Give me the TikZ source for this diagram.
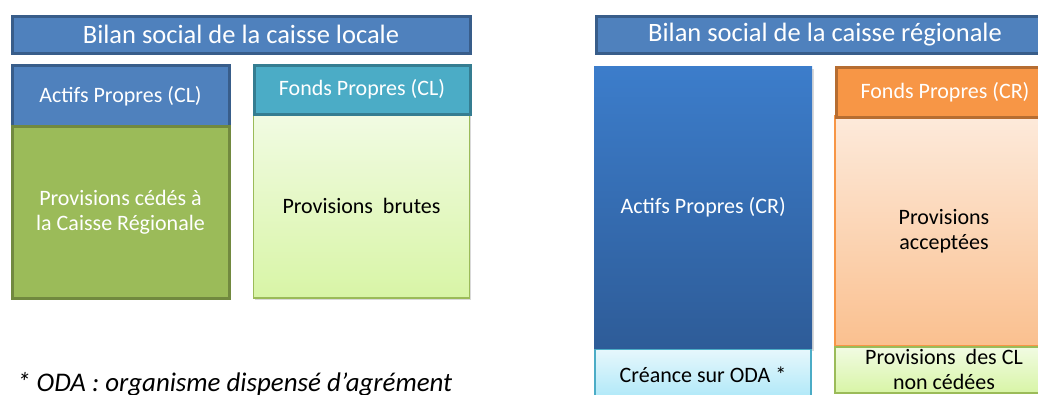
\documentclass[tikz,border=0pt]{standalone}
\usepackage{fontspec}
\setmainfont{Carlito}
\usetikzlibrary{shadows}
\definecolor{bluefill}{HTML}{4F81BD}
\definecolor{blueline}{HTML}{385D8A}
\definecolor{greenfill}{HTML}{9BBB59}
\definecolor{greenline}{HTML}{71893F}
\definecolor{aquafill}{HTML}{4BACC6}
\definecolor{aqualine}{HTML}{357D91}
\definecolor{orangefill}{HTML}{F79646}
\definecolor{orangeline}{HTML}{B66D31}
\definecolor{ltgreentop}{HTML}{F1FBE3}
\definecolor{ltgreenbot}{HTML}{D8F5A6}
\definecolor{crtop}{HTML}{3C7DCB}
\definecolor{crbot}{HTML}{2E5C98}
\definecolor{cyantop}{HTML}{E6F7FC}
\definecolor{cyanbot}{HTML}{AEE8F8}
\definecolor{peachtop}{HTML}{FDEADB}
\definecolor{peachbot}{HTML}{FAC08F}
\begin{document}
\begin{tikzpicture}[x=1pt,y=-1pt,
  box/.style={rectangle, anchor=north west, inner sep=0pt, align=center,
    font=\fontsize{22}{25}\selectfont},
  thick box/.style={box, draw, line width=3pt},
  thin box/.style={box, draw, line width=1.5pt},
  titlebox/.style={thick box, fill=bluefill, draw=blueline, text=white,
    font=\fontsize{26.5}{30}\selectfont},
  bluebox/.style={thick box, fill=bluefill, draw=blueline, text=white},
  greenbox/.style={thick box, fill=greenfill, draw=greenline, text=white},
  aquabox/.style={thick box, fill=aquafill, draw=aqualine, text=white},
  orangebox/.style={thick box, fill=orangefill, draw=orangeline, text=white},
  ltgreenbox/.style={thin box, draw=greenfill, top color=ltgreentop, bottom color=ltgreenbot, text=black},
  crbox/.style={box, top color=crtop, bottom color=crbot, text=white},
  cyanbox/.style={thin box, draw=aquafill, top color=cyantop, bottom color=cyanbot, text=black},
  peachbox/.style={thin box, draw=orangefill, top color=peachtop, bottom color=peachbot, text=black},
  softshadow/.style={drop shadow={opacity=0.25, shadow xshift=1.5pt, shadow yshift=-2.5pt, fill=black!60}},
]
\useasboundingbox (0,0) rectangle (1038,394);
\clip (0,0) rectangle (1038,394);

% left: caisse locale
\node[titlebox, minimum width=458pt, minimum height=37pt] (tl) at (10.5,14.5) {Bilan social de la caisse locale};
\node[bluebox, minimum width=217pt, minimum height=62pt] (apcl) at (10.5,63.5) {Actifs Propres (CL)};
\node[greenbox, minimum width=217pt, minimum height=172pt] (pcede) at (10.5,124.5) {Provisions cédés à\\la Caisse Régionale};
\node[ltgreenbox, softshadow, minimum width=216pt, minimum height=184pt] (pbrut) at (252.75,113) {Provisions\ \ brutes};
\node[aquabox, minimum width=216pt, minimum height=49pt] (fpcl) at (252.5,63.5) {Fonds Propres (CL)};

% right: caisse regionale
\node[titlebox, minimum width=458pt, minimum height=37pt] (tr) at (594.5,14.5) {Bilan social de la caisse régionale};
\node[crbox, softshadow, minimum width=218pt, minimum height=282pt] (apcr) at (594,66) {Actifs Propres (CR)};
\node[cyanbox, minimum width=216pt, minimum height=50pt] (oda) at (594.25,348.75) {Créance sur ODA *};
\node[peachbox, minimum width=218pt, minimum height=230pt] (pacc) at (834.25,115.25) {Provisions\\acceptées};
\node[orangebox, minimum width=218pt, minimum height=50pt] (fpcr) at (834.5,65.5) {Fonds Propres (CR)};
\node[ltgreenbox, minimum width=218pt, minimum height=46pt, font=\fontsize{22}{25}\selectfont] (pnc) at (834.25,346) {Provisions\ \ des CL\\non cédées};

% footnote
\node[anchor=base west, inner sep=0pt, font=\fontsize{26.9}{30}\selectfont\itshape] (fn) at (17,391) {* ODA : organisme dispensé d’agrément};
\end{tikzpicture}
\end{document}
